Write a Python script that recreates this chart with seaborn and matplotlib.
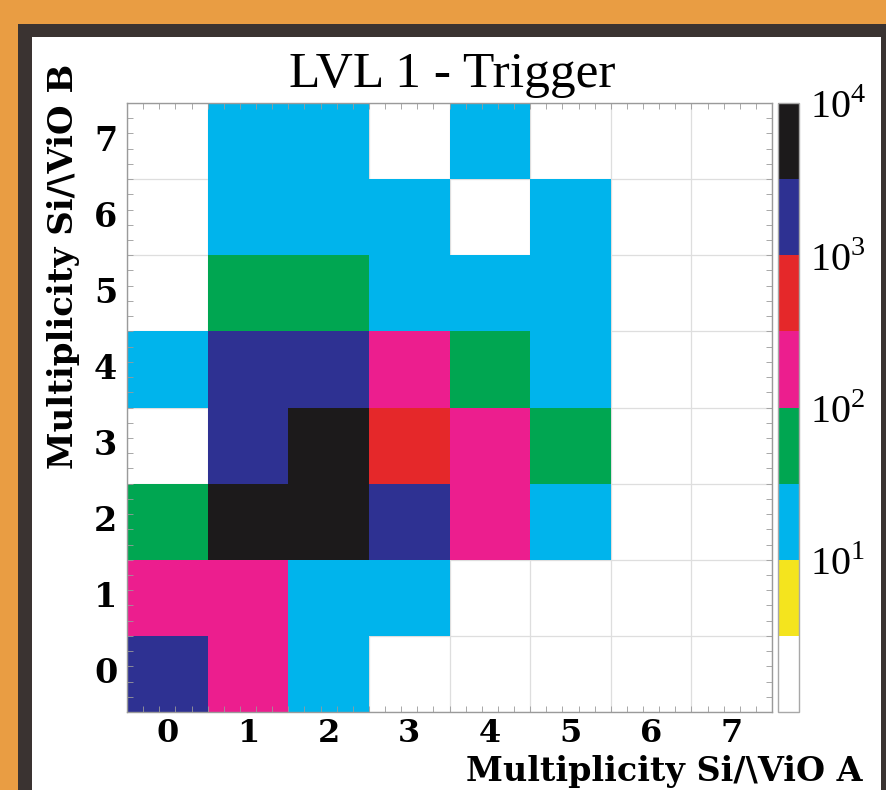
import numpy as np
import pandas as pd
import matplotlib
matplotlib.use("Agg")
import matplotlib.pyplot as plt
import seaborn as sns
from matplotlib.colors import ListedColormap, LogNorm
from matplotlib.patches import Rectangle
from matplotlib.ticker import MultipleLocator

# multiplicity bins (SiΛViO A on x, SiΛViO B on y)
mult_a = [0, 1, 2, 3, 4, 5, 6, 7]
mult_b = [0, 1, 2, 3, 4, 5, 6, 7]

# counts (row = B multiplicity, from 0 up to 7)
counts_b0 = [2000, 200, 20, 0, 0, 0, 0, 0]
counts_b1 = [200, 200, 20, 20, 0, 0, 0, 0]
counts_b2 = [60, 6000, 6000, 2000, 200, 20, 0, 0]
counts_b3 = [0, 2000, 6000, 600, 200, 60, 0, 0]
counts_b4 = [20, 2000, 2000, 200, 60, 20, 0, 0]
counts_b5 = [0, 60, 60, 20, 20, 20, 0, 0]
counts_b6 = [0, 20, 20, 20, 0, 20, 0, 0]
counts_b7 = [0, 20, 20, 0, 20, 0, 0, 0]

cbar_ticks = [10, 100, 1000, 10000]
cbar_labels = ["$10^{1}$", "$10^{2}$", "$10^{3}$", "$10^{4}$"]

palette = ["#ffffff", "#f4e41e", "#00b4ec", "#00a651",
           "#ec1e8e", "#e5282a", "#2e3192", "#1c1a1b"]

df = pd.DataFrame([counts_b0, counts_b1, counts_b2, counts_b3,
                   counts_b4, counts_b5, counts_b6, counts_b7],
                  index=mult_b, columns=mult_a)

plt.rcParams["mathtext.fontset"] = "custom"
plt.rcParams["mathtext.rm"] = "Liberation Serif"

W, H = 886, 790
fig = plt.figure(figsize=(W / 100, H / 100), dpi=100, facecolor="#e99d43")

# frame
fig.patches.append(Rectangle((18 / W, 0), 1, (H - 24) / H, transform=fig.transFigure,
                             facecolor="#3a3331", edgecolor="none", zorder=-2))
fig.patches.append(Rectangle((32 / W, 0), (881 - 32) / W, (H - 37) / H,
                             transform=fig.transFigure,
                             facecolor="white", edgecolor="none", zorder=-1))

ax = fig.add_axes([127 / W, (H - 712) / H, (772 - 127) / W, (712 - 103) / H])
cax = fig.add_axes([778 / W, (H - 712) / H, 21 / W, (712 - 103) / H])

for i in range(9):
    ax.axvline(i, color="#dedede", lw=0.9, zorder=0)
    ax.axhline(i, color="#dedede", lw=0.9, zorder=0)

sns.heatmap(df, ax=ax, cbar_ax=cax, cmap=ListedColormap(palette),
            norm=LogNorm(vmin=1, vmax=1e4), mask=(df == 0),
            cbar_kws={"ticks": cbar_ticks})
ax.invert_yaxis()
ax.set_facecolor("white")

for s in ax.spines.values():
    s.set_visible(True)
    s.set_color("#9a9a9a")
    s.set_linewidth(1)

ax.xaxis.set_minor_locator(MultipleLocator(0.2))
ax.yaxis.set_minor_locator(MultipleLocator(0.2))
ax.tick_params(which="major", length=0, pad=7)
ax.tick_params(axis="x", which="major", pad=4)
ax.tick_params(which="minor", direction="in", length=4, color="#9a9a9a",
               top=True, right=True)
ax.set_xticklabels([str(v) for v in mult_a], rotation=0,
                   fontfamily="DejaVu Serif", fontweight="bold", fontsize=23)
ax.set_yticklabels([str(v) for v in mult_b], rotation=0,
                   fontfamily="DejaVu Serif", fontweight="bold", fontsize=24)
ax.set_xlabel("")
ax.set_ylabel("")

cax.set_yticks(cbar_ticks)
cax.set_yticklabels(cbar_labels, fontsize=29)
cax.tick_params(length=0, pad=8)
cax.minorticks_off()
cbar = ax.collections[0].colorbar
cbar.outline.set_edgecolor("#a8a8a8")
cbar.outline.set_linewidth(1)

fig.text(452 / W, (H - 75) / H, "LVL 1 - Trigger", ha="center", va="center",
         fontfamily="Liberation Serif", fontsize=37)
fig.text(862 / W, (H - 781) / H, "Multiplicity Si/\\ViO A", ha="right",
         va="baseline", fontfamily="DejaVu Serif", fontweight="bold", fontsize=24)
fig.text(64 / W, (H - 64) / H, "Multiplicity Si/\\ViO B", ha="center",
         va="top", rotation=90, fontfamily="DejaVu Serif", fontweight="bold",
         fontsize=24.5)

fig.savefig("out.png", dpi=100, facecolor=fig.get_facecolor())
